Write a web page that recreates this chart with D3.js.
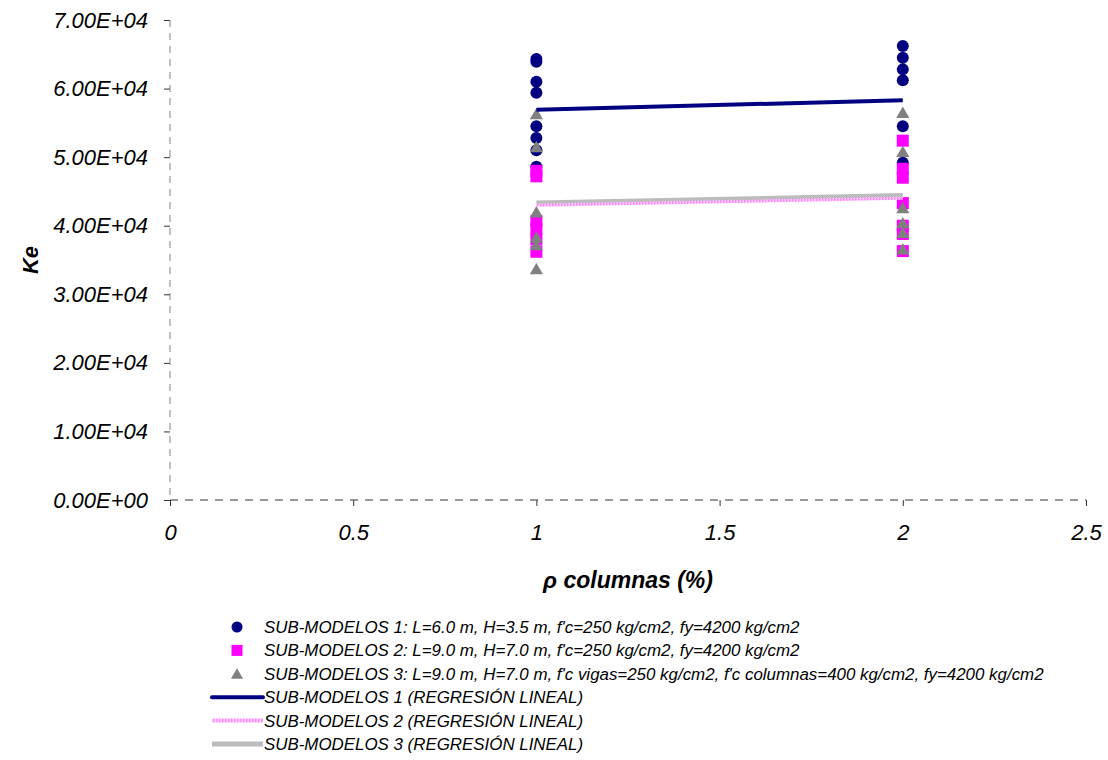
<!DOCTYPE html>
<html>
<head>
<meta charset="utf-8">
<script src="https://cdn.jsdelivr.net/npm/d3@7"></script>
<style>
  html, body { margin: 0; padding: 0; background: #fff; }
  svg text { font-family: "Liberation Sans", Arial, sans-serif; font-style: italic; fill: #000; }
</style>
</head>
<body>
<svg id="chart" width="1108" height="760"></svg>
<script>
// ρ columnas (%) for each group of sub-models
const rhoValues = [1, 2];

// Ke values per sub-model family, grouped by ρ
const sub1Points = [
  { x: 1, y: [64300, 63900, 61000, 59400, 54500, 52800, 51000, 48600] },
  { x: 2, y: [66200, 64500, 62800, 61200, 54500, 49200] }
];
const sub2Points = [
  { x: 1, y: [48000, 47200, 40700, 39500, 38000, 36200] },
  { x: 2, y: [52400, 48300, 47000, 43300, 40000, 38800, 36300] }
];
const sub3Points = [
  { x: 1, y: [56300, 51500, 42000, 38300, 37200, 33700] },
  { x: 2, y: [56500, 50800, 42600, 40400, 39000, 36600] }
];

// Linear regression lines (Ke at ρ = 1 and ρ = 2)
const reg1 = [56900, 58300];
const reg2 = [43000, 44000];
const reg3 = [43300, 44400];

const yTicks = [0, 10000, 20000, 30000, 40000, 50000, 60000, 70000];
const xTicks = [0, 0.5, 1, 1.5, 2, 2.5];

const legendLabels = [
  "SUB-MODELOS 1: L=6.0 m, H=3.5 m, f'c=250 kg/cm2, fy=4200 kg/cm2",
  "SUB-MODELOS 2: L=9.0 m, H=7.0 m, f'c=250 kg/cm2, fy=4200 kg/cm2",
  "SUB-MODELOS 3: L=9.0 m, H=7.0 m, f'c vigas=250 kg/cm2, f'c columnas=400 kg/cm2, fy=4200 kg/cm2",
  "SUB-MODELOS 1 (REGRESIÓN LINEAL)",
  "SUB-MODELOS 2 (REGRESIÓN LINEAL)",
  "SUB-MODELOS 3 (REGRESIÓN LINEAL)"
];

const svg = d3.select("#chart");
const defs = svg.append("defs");

// striped light-pink texture for regression line 2
const pinkPat = defs.append("pattern").attr("id", "pinkTex")
  .attr("patternUnits", "userSpaceOnUse").attr("width", 3).attr("height", 3);
pinkPat.append("rect").attr("width", 3).attr("height", 3).attr("fill", "#ffd0ff");
pinkPat.append("rect").attr("width", 1.5).attr("height", 3).attr("fill", "#ff88ff");

// checkered gray texture for regression line 3
const grayPat = defs.append("pattern").attr("id", "grayTex")
  .attr("patternUnits", "userSpaceOnUse").attr("width", 2).attr("height", 2);
grayPat.append("rect").attr("width", 2).attr("height", 2).attr("fill", "#c4c4c4");
grayPat.append("rect").attr("width", 1).attr("height", 1).attr("fill", "#b4b4b4");
grayPat.append("rect").attr("x", 1).attr("y", 1).attr("width", 1).attr("height", 1).attr("fill", "#b4b4b4");

const plotLeft = 170, plotRight = 1086, plotTop = 20, plotBottom = 500;
const x = d3.scaleLinear().domain([0, 2.5]).range([plotLeft, plotRight]);
const y = d3.scaleLinear().domain([0, 70000]).range([plotBottom, plotTop]);

const fmtE = v => {
  if (v === 0) return "0.00E+00";
  const e = Math.floor(Math.log10(v));
  const m = v / Math.pow(10, e);
  return m.toFixed(2) + "E+" + String(e).padStart(2, "0");
};

// Y axis: dashed spine, ticks on the left
const yAxis = d3.axisLeft(y).tickValues(yTicks).tickFormat(fmtE).tickSize(6).tickPadding(16);
const gy = svg.append("g").attr("transform", `translate(${plotLeft},0)`).call(yAxis);
gy.select(".domain").remove();
gy.selectAll(".tick line").attr("stroke", "#333");
gy.selectAll(".tick text").style("font-size", "22px").attr("fill", "#000");
svg.append("line").attr("x1", plotLeft).attr("x2", plotLeft).attr("y1", plotTop).attr("y2", plotBottom)
  .attr("stroke", "#808080").attr("stroke-width", 1).attr("stroke-dasharray", "7,6");

// X axis: dashed spine, ticks below
const xAxis = d3.axisBottom(x).tickValues(xTicks).tickFormat(d3.format("")).tickSize(6).tickPadding(18);
const gx = svg.append("g").attr("transform", `translate(0,${plotBottom})`).call(xAxis);
gx.select(".domain").remove();
gx.selectAll(".tick line").attr("stroke", "#333");
gx.selectAll(".tick text").style("font-size", "22px").attr("fill", "#000");
svg.append("line").attr("x1", plotLeft).attr("x2", plotRight).attr("y1", plotBottom).attr("y2", plotBottom)
  .attr("stroke", "#333").attr("stroke-width", 1).attr("stroke-dasharray", "8,7");

// axis titles
svg.append("text").attr("transform", `translate(38,${(plotTop + plotBottom) / 2}) rotate(-90)`)
  .attr("text-anchor", "middle").style("font-size", "22px").style("font-weight", "bold").text("Ke");
svg.append("text").attr("x", x(1.25)).attr("y", 588)
  .attr("text-anchor", "middle").style("font-size", "23px").style("font-weight", "bold").text("ρ columnas (%)");

const flat = groups => groups.flatMap(g => g.y.map(v => ({ x: g.x, y: v })));

const triPath = (cx, cy, s) => `M${cx},${cy - s * 0.5}L${cx + s * 0.55},${cy + s * 0.45}L${cx - s * 0.55},${cy + s * 0.45}Z`;

// scatter markers
svg.append("g").selectAll("circle").data(flat(sub1Points)).join("circle")
  .attr("cx", d => x(d.x)).attr("cy", d => y(d.y)).attr("r", 6).attr("fill", "#000080");
svg.append("g").selectAll("rect").data(flat(sub2Points)).join("rect")
  .attr("x", d => x(d.x) - 6).attr("y", d => y(d.y) - 6).attr("width", 12).attr("height", 12).attr("fill", "#ff00ff");
svg.append("g").selectAll("path").data(flat(sub3Points)).join("path")
  .attr("d", d => triPath(x(d.x), y(d.y), 12)).attr("fill", "#808080");

// regression lines
const line = d3.line().x(d => x(d[0])).y(d => y(d[1]));
svg.append("path").attr("d", line(rhoValues.map((r, i) => [r, reg3[i]])))
  .attr("stroke", "url(#grayTex)").attr("stroke-width", 5).attr("fill", "none");
svg.append("path").attr("d", line(rhoValues.map((r, i) => [r, reg2[i]])))
  .attr("stroke", "url(#pinkTex)").attr("stroke-width", 3).attr("fill", "none");
svg.append("path").attr("d", line(rhoValues.map((r, i) => [r, reg1[i]])))
  .attr("stroke", "#000080").attr("stroke-width", 4).attr("fill", "none");

// legend
const lg = svg.append("g");
const rowY = i => 627 + i * 23.4;
lg.selectAll("text").data(legendLabels).join("text")
  .attr("x", 264).attr("y", (d, i) => rowY(i)).attr("dy", "0.35em")
  .style("font-size", "16.9px").text(d => d);
lg.append("circle").attr("cx", 237).attr("cy", rowY(0)).attr("r", 5.5).attr("fill", "#000080");
lg.append("rect").attr("x", 231.5).attr("y", rowY(1) - 5.5).attr("width", 11).attr("height", 11).attr("fill", "#ff00ff");
lg.append("path").attr("d", triPath(237, rowY(2), 11)).attr("fill", "#808080");
lg.append("line").attr("x1", 212).attr("x2", 263).attr("y1", rowY(3)).attr("y2", rowY(3))
  .attr("stroke", "#000080").attr("stroke-width", 4).attr("stroke-linecap", "round");
lg.append("line").attr("x1", 212).attr("x2", 263).attr("y1", rowY(4)).attr("y2", rowY(4))
  .attr("stroke", "url(#pinkTex)").attr("stroke-width", 4);
lg.append("line").attr("x1", 212).attr("x2", 263).attr("y1", rowY(5)).attr("y2", rowY(5))
  .attr("stroke", "url(#grayTex)").attr("stroke-width", 5);
</script>
</body>
</html>
